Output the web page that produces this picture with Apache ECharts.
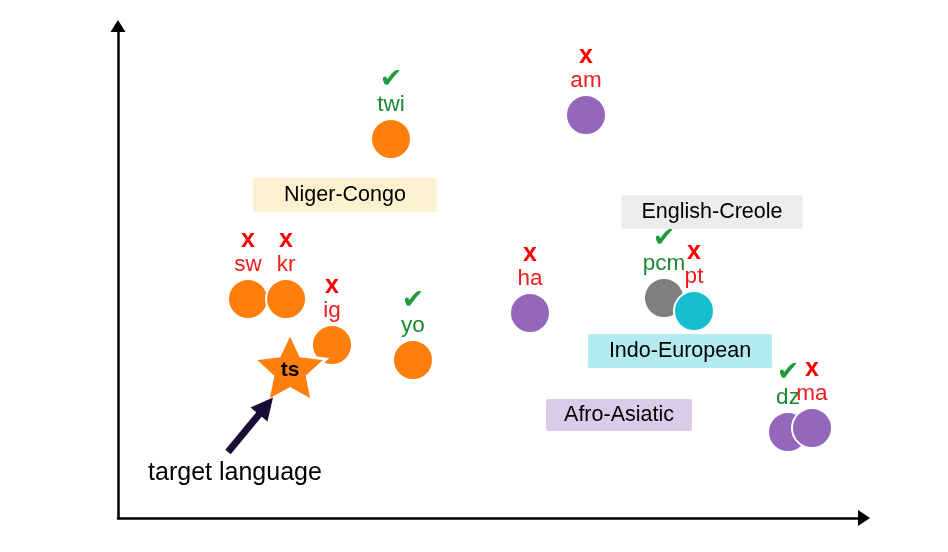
<!DOCTYPE html>
<html><head><meta charset="utf-8">
<script src="https://cdn.jsdelivr.net/npm/echarts@6/dist/echarts.min.js"></script>
<style>html,body{margin:0;padding:0;background:#fff}#c{width:948px;height:552px}</style>
</head><body><div id="c"></div>
<script>
// Languages (data units: arbitrary embedding space)
const langs   = ['twi','am','sw','kr','ig','yo','ha','pcm','pt','dz','ma'];
const xs      = [273, 468, 130, 168, 214, 295, 412, 546, 576, 670, 694];
const ys      = [379, 403, 219, 219, 173, 158, 205, 220, 207, 86, 90];
const correct = [true, false, false, false, false, true, false, true, false, true, false];
const family  = ['Niger-Congo','Afro-Asiatic','Niger-Congo','Niger-Congo','Niger-Congo','Niger-Congo','Afro-Asiatic','English-Creole','Indo-European','Afro-Asiatic','Afro-Asiatic'];
// target language
const targetName = 'ts';
const targetPos = [172, 151];
// family boxes
const families   = ['Niger-Congo','English-Creole','Indo-European','Afro-Asiatic'];
const familyX    = [227, 594, 562, 501];
const familyY    = [323, 306, 167, 103];
// annotation
const annText = 'target language';
const annPos = [117, 45];
const arrowFrom = [110, 66];
const arrowTo = [148, 112];

const famColor = {'Niger-Congo':'#ff7f0e','Afro-Asiatic':'#9467bd','English-Creole':'#7f7f7f','Indo-European':'#17becf'};
const famBg = {'Niger-Congo':'#fdf1cf','English-Creole':'#ececec','Indo-European':'#b3ebf1','Afro-Asiatic':'#dccbe8'};
const famPad = {'Niger-Congo':[6,31],'English-Creole':[6,20],'Indo-European':[6,21],'Afro-Asiatic':[5,18]};
const RED='#ff0000', GREEN='#1e9c3c';
const F='Liberation Sans, Arial, sans-serif';

const chart = echarts.init(document.getElementById('c'));
const starPath = (function(){
  let p='path://';
  for(let i=0;i<10;i++){
    const r = i%2===0?50:24;
    const a = -Math.PI/2 + i*Math.PI/5;
    p += (i===0?'M':'L') + (50+r*Math.cos(a)).toFixed(2)+' '+(50+r*Math.sin(a)).toFixed(2)+' ';
  }
  return p+'Z';
})();

const ptData = langs.map((n,i)=>({
  name:n, value:[xs[i],ys[i]],
  itemStyle:{color:famColor[family[i]]},
  label:{
    formatter:'{'+(correct[i]?'g':'r')+'|'+(correct[i]?'✔':'x')+'}\n{'+(correct[i]?'gn':'rn')+'|'+n+'}'
  }
}));

chart.setOption({
  animation:false,
  grid:{left:118,right:84,top:26,bottom:34},
  xAxis:{type:'value',min:0,max:746,splitLine:{show:false},axisTick:{show:false},axisLabel:{show:false},
    axisLine:{show:true,onZero:false,symbol:['none','triangle'],symbolSize:[16,12],lineStyle:{color:'#000',width:2.5}}},
  yAxis:{type:'value',min:0,max:492,splitLine:{show:false},axisTick:{show:false},axisLabel:{show:false},
    axisLine:{show:true,onZero:false,symbol:['none','triangle'],symbolSize:[15,12],lineStyle:{color:'#000',width:2.5}}},
  series:[
    {type:'scatter',symbol:'rect',symbolSize:0,z:1,itemStyle:{opacity:1},
      data:families.map((f,i)=>({name:f,value:[familyX[i],familyY[i]],label:{backgroundColor:famBg[f],padding:famPad[f]}})),
      label:{show:true,position:'inside',formatter:'{b}',color:'#000',fontFamily:F,fontSize:21.5,lineHeight:22,borderRadius:2}},
    {type:'scatter',symbol:'circle',symbolSize:40,z:3,
      itemStyle:{borderColor:'#fff',borderWidth:2,opacity:1},
      label:{show:true,position:'top',distance:2,
        rich:{
          r:{color:RED,fontFamily:F,fontWeight:'bold',fontSize:25,lineHeight:28},
          g:{color:GREEN,fontFamily:'DejaVu Sans',fontWeight:'bold',fontSize:27,lineHeight:28},
          rn:{color:'#ee1c1c',fontFamily:F,fontSize:22.5,lineHeight:22},
          gn:{color:'#1a8a30',fontFamily:F,fontSize:22.5,lineHeight:22}
        }},
      data:ptData},
    {type:'scatter',symbol:starPath,symbolSize:[72,68],z:4,
      itemStyle:{color:'#ff7f0e',borderColor:'#fff',borderWidth:3,opacity:1},
      label:{show:true,position:'inside',formatter:'{b}',color:'#000',fontFamily:F,fontWeight:'bold',fontSize:21,offset:[0,3]},
      data:[{name:targetName,value:targetPos}]},
    {type:'scatter',symbolSize:0,z:5,itemStyle:{opacity:1},
      label:{show:true,position:'inside',formatter:'{b}',color:'#000',fontFamily:F,fontSize:25},
      data:[{name:annText,value:annPos}]},
    {type:'lines',coordinateSystem:'cartesian2d',z:5,symbol:['none','triangle'],symbolSize:22,
      lineStyle:{color:'#1b0c36',width:7,opacity:1},
      data:[{coords:[arrowFrom,arrowTo]}]}
  ]
});
</script></body></html>
